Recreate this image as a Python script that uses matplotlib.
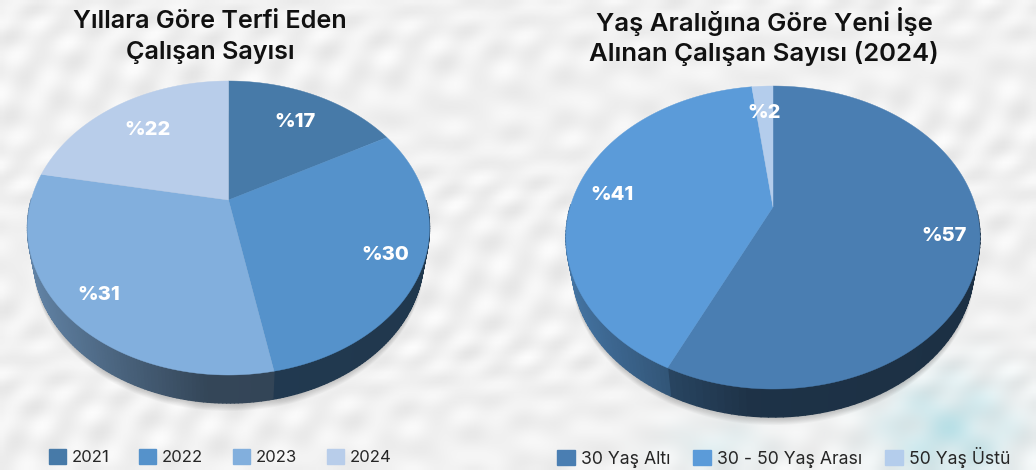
import numpy as np
import matplotlib
matplotlib.use('Agg')
import matplotlib.pyplot as plt
from matplotlib.collections import PolyCollection
from matplotlib.patches import Patch

plt.rcParams['font.family'] = ['Inter', 'DejaVu Sans']

left_title = "Yıllara Göre Terfi Eden\nÇalışan Sayısı"
left_labels = ['2021', '2022', '2023', '2024']
left_values = [17, 30, 31, 22]
left_colors = ['#477aa8', '#5592cb', '#82afdd', '#b8cdea']

right_title = "Yaş Aralığına Göre Yeni İşe\nAlınan Çalışan Sayısı (2024)"
right_labels = ['30 Yaş Altı', '30 - 50 Yaş Arası', '50 Yaş Üstü']
right_values = [57, 41, 2]
right_colors = ['#4a7eb2', '#5b9bd9', '#b4cdec']

# small pixel nudges for the percent labels
left_nudge = [(-5, 5), (4, 0), (-5, 2), (9, 5)]
right_nudge = [(7, 0), (-5, 3), (0, 3)]


def project(angle, r, geo):
    # angle runs clockwise from the top, the disc is tilted in perspective
    xc, yc, top, bottom, half_w = geo
    x = r * np.sin(angle)
    y = r * np.cos(angle)
    c = (top + bottom - 2 * yc) / (bottom - top)
    k = top * (1 + c) - yc
    d = half_w * np.sqrt(1 - c ** 2)
    w = 1 + c * y
    return xc + d * x / w, (yc + k * y) / w


def shade_color(color, factor):
    rgb = np.array(matplotlib.colors.to_rgb(color))
    return tuple(rgb * factor)


def draw_pie(ax, values, colors, geo, depth, nudge):
    xc, yc, top, bottom, half_w = geo
    full = np.linspace(0, 2 * np.pi, 361)
    rim_x, rim_y = project(full, 1, geo)
    # the lower rim is a bit narrower than the top one
    low_x = xc + (rim_x - xc) * 0.972

    # soft shadow under the disc
    for i in range(10):
        ax.fill(low_x, rim_y + depth + i * 0.9, color='#000000', alpha=0.022,
                lw=0, zorder=2)

    edges = np.cumsum([0] + list(values)) / sum(values) * 2 * np.pi

    # side wall in thin strips so the shade can change along the rim
    for i, color in enumerate(colors):
        t = np.linspace(edges[i], edges[i + 1], 120)
        x, y = project(t, 1, geo)
        bx = xc + (x - xc) * 0.972
        polys = []
        strip_colors = []
        for j in range(len(t) - 1):
            if np.cos(t[j]) > 0:
                continue  # back of the disc, hidden by the top
            polys.append([(x[j], y[j]), (x[j + 1], y[j + 1]),
                          (bx[j + 1], y[j + 1] + depth), (bx[j], y[j] + depth)])
            pos = (x[j] - xc) / half_w
            factor = np.interp(pos, [-1, -0.5, -0.1, 1], [0.75, 0.55, 0.4, 0.38])
            strip_colors.append(shade_color(color, factor))
        if polys:
            ax.add_collection(PolyCollection(polys, facecolors=strip_colors,
                                             edgecolors=strip_colors, linewidths=1.0,
                                             zorder=3))

    # top surface
    for i, color in enumerate(colors):
        t = np.linspace(edges[i], edges[i + 1], 200)
        x, y = project(t, 1, geo)
        ax.fill(np.r_[xc, x], np.r_[yc, y], color=color, lw=0.3, zorder=4)

    # percent labels
    for i, v in enumerate(values):
        mid = (edges[i] + edges[i + 1]) / 2
        lx, ly = project(mid, 0.8, geo)
        ax.text(lx + nudge[i][0], ly + 3 + nudge[i][1], f"%{v}", color='white',
                fontsize=14.5, fontweight='heavy', ha='center', va='center',
                zorder=5)


fig = plt.figure(figsize=(10.36, 4.7), dpi=100)
ax = fig.add_axes([0, 0, 1, 1])
ax.set_xlim(0, 1036)
ax.set_ylim(470, 0)
ax.axis('off')

# paper-like background built from crossing waves
gy, gx = np.mgrid[0:470:5, 0:1036:5]
tex = (np.sin((gx + 1.7 * gy) / 11.0 + np.sin(gy / 29.0) * 2) * np.sin((gx - 0.8 * gy) / 17.0)
       + 0.8 * np.sin(gx / 23.0 + gy / 8.0) * np.cos(gx / 9.0 - gy / 31.0))
gray = 0.945 + 0.026 * tex
bg = np.dstack([gray, gray, gray])
blot = np.exp(-(((gx - 950) / 66.0) ** 2 + ((gy - 430) / 52.0) ** 2))
blot = blot + 0.35 * np.exp(-(((gx - 720) / 50.0) ** 2 + ((gy - 445) / 25.0) ** 2))
blot = blot * (0.75 + 0.25 * np.sin(gx / 11.0) * np.cos(gy / 9.0))
tint = np.array([0.70, 0.87, 0.90])
bg = bg * (1 - 0.9 * blot[..., None]) + tint * 0.9 * blot[..., None]
ax.imshow(np.clip(bg, 0, 1), extent=(0, 1036, 470, 0), aspect='auto',
          interpolation='bilinear', zorder=0)

left_geo = (228.5, 200, 81, 375, 201)
right_geo = (773, 207, 86, 389, 207)
draw_pie(ax, left_values, left_colors, left_geo, 28, left_nudge)
draw_pie(ax, right_values, right_colors, right_geo, 28, right_nudge)

ax.text(210, 37, left_title, fontsize=18.1, fontweight='semibold', color='#111111',
        ha='center', va='center', linespacing=1.45, zorder=6)
ax.text(764, 37, right_title, fontsize=18.5, fontweight='semibold', color='#111111',
        ha='center', va='center', linespacing=1.25, zorder=6)

legend_style = dict(ncol=4, frameon=False, handlelength=1.0, handleheight=1.0,
                    handletextpad=0.35, labelcolor='#262626', borderpad=0,
                    borderaxespad=0, loc='center left')
leg1 = ax.legend([Patch(color=c) for c in left_colors], left_labels, fontsize=12,
                 bbox_to_anchor=(49 / 1036, 1 - 457 / 470), columnspacing=1.8,
                 **legend_style)
ax.add_artist(leg1)
ax.legend([Patch(color=c) for c in right_colors], right_labels, fontsize=12.7,
          bbox_to_anchor=(557 / 1036, 1 - 457 / 470), columnspacing=1.3,
          **legend_style)

fig.savefig('out.png', dpi=100)
